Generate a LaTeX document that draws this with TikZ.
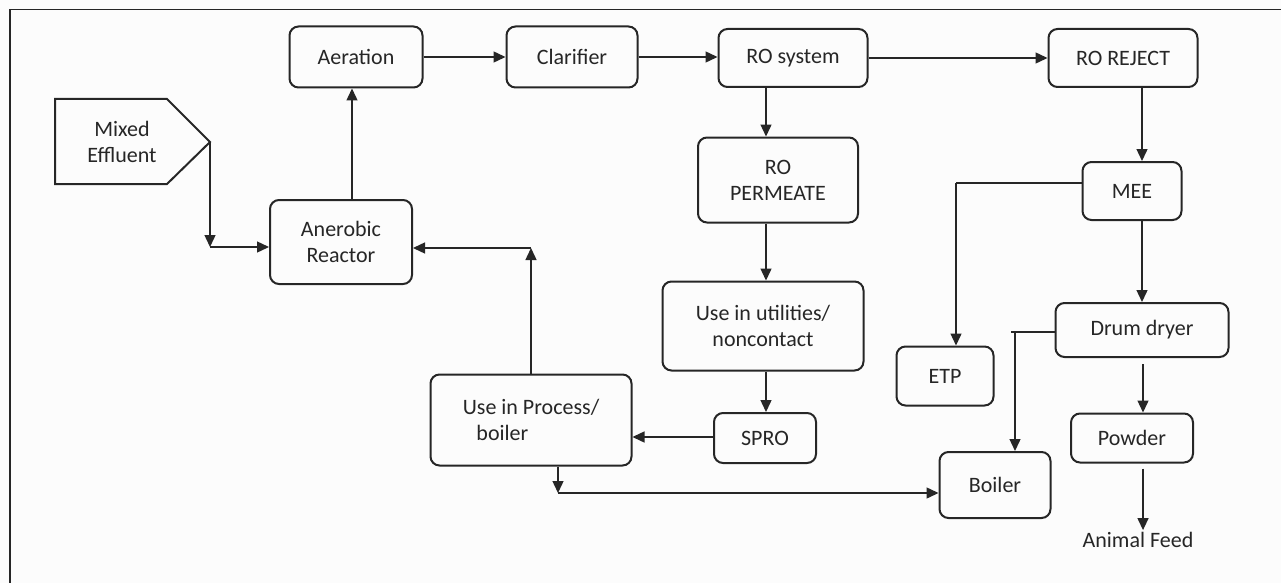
\documentclass[tikz,border=0pt]{standalone}
\usepackage{fontspec}
\setmainfont{Carlito}
\usetikzlibrary{arrows.meta,calc}
\definecolor{ink}{HTML}{262626}
\begin{document}
\begin{tikzpicture}[x=1pt,y=-1pt,
  every node/.style={text=ink,font=\fontsize{22}{26}\selectfont},
  box/.style={draw=ink,line width=2pt,rounded corners=9pt,inner sep=0pt,align=center},
  arr/.style={draw=ink,line width=1.4pt,-{Triangle[length=12pt,width=11pt]}},
  ln/.style={draw=ink,line width=1.4pt}]
\useasboundingbox (0,0) rectangle (1281,583);
\fill[white!98!gray] (0,0) rectangle (1281,583);
\draw[ink,line width=1.6pt] (10,583) -- (10,9.5) -- (1281,9.5);

% nodes
\node[box,minimum width=133pt,minimum height=61pt] (aer) at (356,57) {Aeration};
\node[box,minimum width=131pt,minimum height=61pt] (cla) at (572,57) {Clarifier};
\node[box,minimum width=149pt,minimum height=58pt] (ros) at (793,58) {RO system};
\node[box,minimum width=149pt,minimum height=58pt] (rej) at (1123,58) {RO REJECT};
\node[box,minimum width=142pt,minimum height=84pt] (ana) at (341,242) {Anerobic\\Reactor};
\node[box,minimum width=160pt,minimum height=85pt] (per) at (778,180) {RO\\PERMEATE};
\node[box,minimum width=201pt,minimum height=89pt] (uti) at (763,326) {Use in utilities/\\noncontact};
\node[box,minimum width=102pt,minimum height=50pt] (spro) at (765,438) {SPRO};
\node[box,minimum width=201pt,minimum height=91pt] (proc) at (531,420) {Use in Process/\\boiler\hspace*{2.6em}};
\node[box,minimum width=111pt,minimum height=66pt] (boi) at (995,485) {Boiler};
\node[box,minimum width=99pt,minimum height=58pt] (mee) at (1132,191) {MEE};
\node[box,minimum width=97pt,minimum height=59pt] (etp) at (945,376) {ETP};
\node[box,minimum width=173pt,minimum height=54pt] (drum) at (1142,330) {Drum dryer};
\node[box,minimum width=122pt,minimum height=49pt] (pow) at (1132,438) {Powder};
\node[inner sep=2pt] (af) at (1138,540) {Animal Feed};

% mixed effluent pentagon
\draw[ink,line width=2pt] (55,99) -- (167,99) -- (210,142) -- (167,184) -- (55,184) -- cycle;
\node[align=center] (me) at (122,142) {Mixed\\Effluent};
\coordinate (mep) at (210,142);

% connectors
\coordinate (j1) at (210,247);
\draw[arr] (mep) -- (j1);
\draw[arr] (j1) -- (j1 -| ana.west);

\coordinate (g1) at (352,0);
\draw[arr] (g1 |- ana.north) -- (g1 |- aer.south);

\draw[arr] (aer.east) -- (cla.west);
\draw[arr] (cla.east) -- (cla.east -| ros.west);
\draw[arr] (ros.east) -- (rej.west);

\coordinate (g2) at (766,0);
\draw[arr] (g2 |- ros.south) -- (g2 |- per.north);
\draw[arr] (g2 |- per.south) -- (g2 |- uti.north);
\draw[arr] (g2 |- uti.south) -- (g2 |- spro.north);
\coordinate (g3) at (0,437);
\draw[arr] (g3 -| spro.west) -- (g3 -| proc.east);

\coordinate (c2) at (531,248);
\draw[arr] (c2 |- proc.north) -- (c2);
\draw[arr] (c2) -- (c2 -| ana.east);

\coordinate (c3) at (558,493);
\draw[arr] (c3 |- proc.south) -- (c3);
\draw[arr] (c3) -- (c3 -| boi.west);

\coordinate (g4) at (1142,0);
\draw[arr] (g4 |- rej.south) -- (g4 |- mee.north);
\draw[arr] (g4 |- mee.south) -- (g4 |- drum.north);

\coordinate (c4) at (956,183);
\draw[ln] (c4 -| mee.west) -- (c4);
\draw[arr] (c4) -- (c4 |- etp.north);

\coordinate (c5) at (1015,332);
\coordinate (c5s) at (1011,332);
\draw[ln] (c5 -| drum.west) -- (c5s);
\draw[arr] (c5) -- (c5 |- boi.north);

\coordinate (g6) at (1143,0);
\draw[arr,shorten <=6pt] (g6 |- drum.south) -- (g6 |- pow.north);
\draw[arr,shorten <=5pt] (g6 |- pow.south) -- (g6 |- af.north);
\end{tikzpicture}
\end{document}
